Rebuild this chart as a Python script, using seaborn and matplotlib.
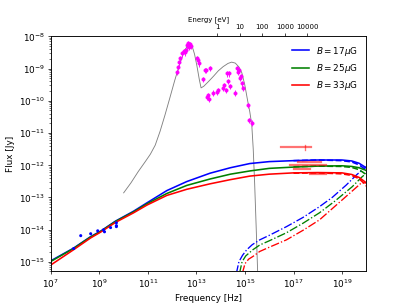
import numpy as np
import pandas as pd
import matplotlib
matplotlib.use("Agg")
import matplotlib.pyplot as plt
import seaborn as sns
from matplotlib.ticker import NullLocator

# --- data (log10 of frequency [Hz] and flux [Jy]) ---

# grey template SED
grey_logn = [10.0, 10.3, 10.6, 10.9, 11.1, 11.3, 11.5, 11.7, 11.9, 12.1, 12.3, 12.5, 12.65,
             12.74, 12.82, 12.92, 13.02, 13.12, 13.19, 13.3, 13.5, 13.7, 13.9, 14.1, 14.3,
             14.45, 14.6, 14.75, 14.87, 14.99, 15.11, 15.2, 15.28, 15.34, 15.40, 15.46, 15.53]
grey_logf = [-12.86, -12.55, -12.2, -11.88, -11.66, -11.38, -10.95, -10.45, -9.92, -9.38, -8.88,
             -8.45, -8.27, -8.23, -8.30, -8.55, -8.92, -9.35, -9.60, -9.55, -9.40, -9.24, -9.07,
             -8.94, -8.84, -8.80, -8.83, -8.95, -9.13, -9.50, -10.0, -10.35, -10.75, -11.5,
             -12.6, -13.9, -15.5]

# optical / IR points (magenta)
opt_logn = [12.20, 12.25, 12.29, 12.33, 12.41, 12.49, 12.53, 12.57, 12.61, 12.66, 12.70, 12.74,
            12.78, 13.02, 13.07, 13.11, 13.27, 13.35, 13.39, 13.56, 13.43, 13.48, 13.52, 13.68,
            13.84, 13.89, 14.09, 14.13, 14.21, 14.25, 14.34, 14.30, 14.38, 14.58, 14.66, 14.70,
            14.75, 14.79, 14.83, 14.87, 14.91, 15.11, 15.16, 15.28]
opt_logf = [-9.11, -8.96, -8.80, -8.68, -8.53, -8.46, -8.50, -8.43, -8.28, -8.22, -8.34, -8.25,
            -8.31, -8.68, -8.74, -8.84, -9.33, -9.05, -9.05, -8.99, -9.89, -9.83, -9.95, -9.76,
            -9.73, -9.67, -9.61, -9.52, -9.67, -9.15, -9.15, -9.39, -9.55, -9.76, -8.99, -9.11,
            -9.05, -9.30, -9.24, -9.46, -9.61, -10.14, -10.60, -10.69]

# radio points (blue)
radio_logn = [7.94, 8.23, 8.64, 8.93, 9.17, 9.21, 9.46, 9.70, 9.70, 9.70]
radio_logf = [-14.59, -14.19, -14.13, -14.04, -14.01, -14.07, -13.94, -13.79, -13.88, -13.91]

# X-ray bands (red bars): low edge, high edge, flux
xray_lo = [16.47, 17.20, 16.84, 17.04, 17.66]
xray_hi = [17.74, 18.15, 18.35, 17.66, 18.35]
xray_logf = [-11.44, -11.90, -11.99, -12.12, -12.27]
xray_tick = 17.49

# synchrotron models (solid)
B_labels = ["$B = 17\\mu$G", "$B = 25\\mu$G", "$B = 33\\mu$G"]
B_colors = ["blue", "green", "red"]
syn_logn = [7.0, 7.93, 8.64, 9.05, 9.66, 10.41, 10.96, 11.78, 12.60, 13.56, 14.4, 15.2,
            16.0, 17.0, 18.0, 19.0, 19.4, 19.7, 19.95, 20.0]
syn_logf = [
    [-14.97, -14.58, -14.22, -14.05, -13.74, -13.43, -13.17, -12.79, -12.51, -12.25, -12.08,
     -11.95, -11.89, -11.86, -11.84, -11.84, -11.87, -11.94, -12.06, -12.09],
    [-14.99, -14.59, -14.23, -14.06, -13.75, -13.45, -13.20, -12.88, -12.63, -12.43, -12.28,
     -12.18, -12.10, -12.06, -12.03, -12.02, -12.04, -12.08, -12.15, -12.17],
    [-15.10, -14.63, -14.26, -14.08, -13.78, -13.48, -13.24, -12.94, -12.75, -12.58, -12.45,
     -12.34, -12.28, -12.24, -12.23, -12.24, -12.29, -12.38, -12.52, -12.55],
]

# total models (dashed), X-ray range only
tot_logn = [17.0, 18.0, 19.0, 19.4, 19.7, 19.9, 20.0]
tot_logf = [
    [-11.86, -11.84, -11.86, -11.90, -11.99, -12.10, -12.18],
    [-12.05, -12.03, -12.04, -12.07, -12.14, -12.24, -12.32],
    [-12.25, -12.24, -12.27, -12.32, -12.42, -12.56, -12.65],
]

# inverse Compton models (dash-dot)
ic_logn = [
    [14.55, 14.66, 14.75, 14.9, 15.07, 15.3, 15.61, 16.0, 16.71, 17.4, 18.07, 18.6, 19.17,
     19.6, 19.83, 20.0],
    [14.68, 14.79, 14.88, 15.03, 15.32, 15.61, 16.0, 16.71, 17.4, 18.07, 18.7, 19.42, 19.8,
     20.0],
    [14.80, 14.91, 15.0, 15.15, 15.32, 15.61, 16.0, 16.71, 17.4, 18.07, 18.9, 19.5, 19.8,
     20.0],
]
ic_logf = [
    [-15.8, -15.31, -15.0, -14.8, -14.63, -14.47, -14.32, -14.18, -13.91, -13.62, -13.29,
     -13.0, -12.62, -12.30, -12.15, -12.05],
    [-15.8, -15.31, -15.0, -14.82, -14.63, -14.48, -14.35, -14.10, -13.80, -13.48, -13.12,
     -12.67, -12.38, -12.25],
    [-15.8, -15.31, -15.06, -14.92, -14.84, -14.68, -14.55, -14.32, -14.02, -13.70, -13.15,
     -12.75, -12.55, -12.55],
]

# --- plot ---
fig, ax = plt.subplots(figsize=(6.4, 4.8))

grey = pd.DataFrame({"nu": 10.0 ** np.array(grey_logn), "f": 10.0 ** np.array(grey_logf)})
sns.lineplot(data=grey, x="nu", y="f", color="grey", lw=1, sort=False, ax=ax)

for i in range(3):
    syn = pd.DataFrame({"nu": 10.0 ** np.array(syn_logn), "f": 10.0 ** np.array(syn_logf[i])})
    sns.lineplot(data=syn, x="nu", y="f", color=B_colors[i], lw=1.8, sort=False,
                 label=B_labels[i], ax=ax)
    tot = pd.DataFrame({"nu": 10.0 ** np.array(tot_logn), "f": 10.0 ** np.array(tot_logf[i])})
    sns.lineplot(data=tot, x="nu", y="f", color=B_colors[i], lw=1.8, ls="--", sort=False, ax=ax)
    ic = pd.DataFrame({"nu": 10.0 ** np.array(ic_logn[i]), "f": 10.0 ** np.array(ic_logf[i])})
    sns.lineplot(data=ic, x="nu", y="f", color=B_colors[i], lw=1.5, ls="-.", sort=False, ax=ax)

# optical points with small error bars
opt_nu = 10.0 ** np.array(opt_logn)
opt_f = 10.0 ** np.array(opt_logf)
ax.errorbar(opt_nu, opt_f, yerr=0.2 * opt_f, fmt="o", color="magenta", ms=3.5, elinewidth=1,
            capsize=0, zorder=5)

radio = pd.DataFrame({"nu": 10.0 ** np.array(radio_logn), "f": 10.0 ** np.array(radio_logf)})
sns.scatterplot(data=radio, x="nu", y="f", color="blue", s=12, edgecolor="none", ax=ax, zorder=5)

# X-ray bars
for lo, hi, lf in zip(xray_lo, xray_hi, xray_logf):
    ax.plot([10 ** lo, 10 ** hi], [10 ** lf, 10 ** lf], color="red", alpha=0.55, lw=2.5)
ax.plot([10 ** xray_tick] * 2, [10 ** (xray_logf[0] - 0.08), 10 ** (xray_logf[0] + 0.08)],
        color="red", alpha=0.55, lw=1.5)

ax.set_xscale("log")
ax.set_yscale("log")
ax.set_xlim(1e7, 1e20)
ax.set_ylim(5e-16, 1e-8)
ax.set_xticks([10.0 ** k for k in range(7, 21, 2)])
ax.set_yticks([10.0 ** k for k in range(-15, -7)])
ax.set_xlabel("Frequency [Hz]")
ax.set_ylabel("Flux [Jy]")
ax.legend(loc="upper right", frameon=False)

# top axis in energy
ax2 = ax.twiny()
ax2.set_xscale("log")
ax2.set_xlim(10 ** -7.38, 10 ** 6.62)
ax2.set_xticks([1, 10, 100, 1000, 10000])
ax2.set_xticklabels(["1", "10", "100", "1000", "10000"], fontsize=8)
ax2.xaxis.set_minor_locator(NullLocator())
ax2.set_xlabel("Energy [eV]", fontsize=8)

fig.savefig("out.png", dpi=407 / 6.4)
